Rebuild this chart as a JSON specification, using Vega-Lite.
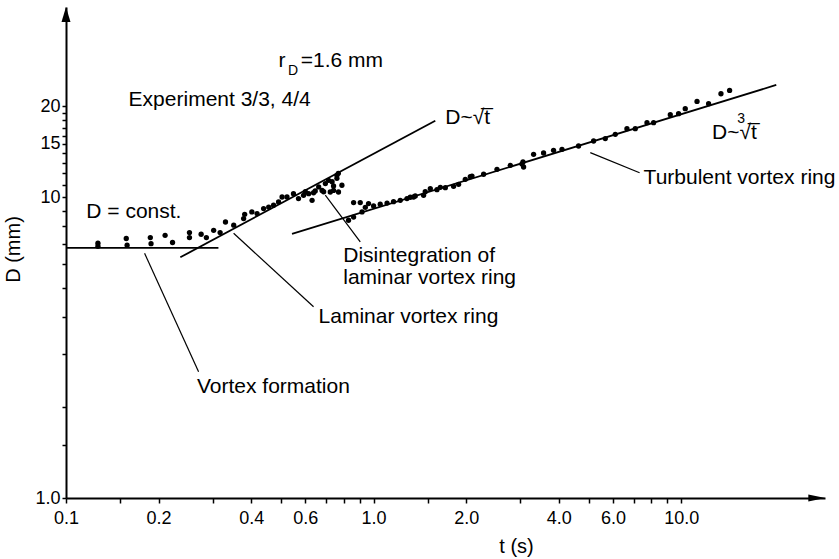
{
  "$schema": "https://vega.github.io/schema/vega-lite/v6.json",
  "width": 759,
  "height": 491,
  "autosize": {"type": "none"},
  "padding": {"left": 66, "top": 7, "right": 14, "bottom": 61},
  "background": "white",
  "config": {"view": {"stroke": null}, "font": "Liberation Sans"},
  "datasets": {
    "points": [
      {"t": 0.127, "D": 7.02}, {"t": 0.127, "D": 6.86}, {"t": 0.157, "D": 7.28}, {"t": 0.158, "D": 6.92},
      {"t": 0.188, "D": 7.33}, {"t": 0.189, "D": 7.0}, {"t": 0.21, "D": 7.46}, {"t": 0.222, "D": 7.06},
      {"t": 0.252, "D": 7.62}, {"t": 0.252, "D": 7.33}, {"t": 0.275, "D": 7.52}, {"t": 0.286, "D": 7.33},
      {"t": 0.302, "D": 7.75}, {"t": 0.317, "D": 7.62}, {"t": 0.33, "D": 8.26}, {"t": 0.351, "D": 8.06},
      {"t": 0.378, "D": 8.48}, {"t": 0.381, "D": 8.76}, {"t": 0.402, "D": 8.92}, {"t": 0.418, "D": 8.81},
      {"t": 0.439, "D": 9.15}, {"t": 0.456, "D": 9.26}, {"t": 0.473, "D": 9.39}, {"t": 0.491, "D": 9.63},
      {"t": 0.504, "D": 10.0}, {"t": 0.523, "D": 10.0}, {"t": 0.549, "D": 10.26}, {"t": 0.57, "D": 9.88},
      {"t": 0.592, "D": 10.13}, {"t": 0.6, "D": 10.41}, {"t": 0.615, "D": 10.26}, {"t": 0.631, "D": 9.75},
      {"t": 0.638, "D": 10.33}, {"t": 0.646, "D": 10.47}, {"t": 0.663, "D": 10.8}, {"t": 0.68, "D": 10.52},
      {"t": 0.688, "D": 10.41}, {"t": 0.697, "D": 11.08}, {"t": 0.714, "D": 11.36}, {"t": 0.723, "D": 10.39},
      {"t": 0.733, "D": 11.24}, {"t": 0.741, "D": 10.52}, {"t": 0.741, "D": 10.88}, {"t": 0.76, "D": 11.8},
      {"t": 0.76, "D": 11.54}, {"t": 0.769, "D": 10.39}, {"t": 0.789, "D": 10.94}, {"t": 0.768, "D": 11.99},
      {"t": 0.829, "D": 8.37}, {"t": 0.861, "D": 8.58}, {"t": 0.861, "D": 9.58}, {"t": 0.905, "D": 9.58},
      {"t": 0.917, "D": 8.92}, {"t": 0.94, "D": 9.24}, {"t": 0.963, "D": 9.51}, {"t": 1.0, "D": 9.34},
      {"t": 1.051, "D": 9.46}, {"t": 1.106, "D": 9.55}, {"t": 1.161, "D": 9.65}, {"t": 1.221, "D": 9.75},
      {"t": 1.284, "D": 9.88}, {"t": 1.316, "D": 9.98}, {"t": 1.349, "D": 10.0}, {"t": 1.366, "D": 10.08},
      {"t": 1.454, "D": 10.13}, {"t": 1.472, "D": 10.41}, {"t": 1.529, "D": 10.66}, {"t": 1.607, "D": 10.58},
      {"t": 1.648, "D": 10.77}, {"t": 1.711, "D": 10.74}, {"t": 1.82, "D": 10.85}, {"t": 1.89, "D": 11.02},
      {"t": 1.987, "D": 11.45}, {"t": 2.063, "D": 11.68}, {"t": 2.089, "D": 11.74}, {"t": 2.279, "D": 11.9},
      {"t": 2.519, "D": 12.36}, {"t": 2.783, "D": 12.74}, {"t": 3.037, "D": 12.87}, {"t": 3.06, "D": 13.07},
      {"t": 3.074, "D": 12.58}, {"t": 3.313, "D": 13.86}, {"t": 3.57, "D": 14.0}, {"t": 3.847, "D": 14.29},
      {"t": 4.098, "D": 14.4}, {"t": 4.639, "D": 14.77}, {"t": 5.191, "D": 15.35}, {"t": 5.666, "D": 15.63},
      {"t": 6.106, "D": 16.15}, {"t": 6.664, "D": 16.87}, {"t": 7.092, "D": 16.87}, {"t": 7.742, "D": 17.66},
      {"t": 8.135, "D": 17.66}, {"t": 9.218, "D": 18.77}, {"t": 9.807, "D": 18.92}, {"t": 10.31, "D": 19.65},
      {"t": 11.26, "D": 20.78}, {"t": 12.28, "D": 20.42}, {"t": 13.47, "D": 22.03}, {"t": 14.37, "D": 22.6}
    ],
    "fits": [
      {"t": 0.1, "D": 6.78, "t2": 0.313, "D2": 6.78},
      {"t": 0.2353, "D": 6.305, "t2": 1.587, "D2": 17.93},
      {"t": 0.543, "D": 7.54, "t2": 20.38, "D2": 23.56}
    ],
    "leaders": [
      {"t": 0.1801, "D": 6.5, "t2": 0.2698, "D2": 2.628},
      {"t": 0.3507, "D": 7.576, "t2": 0.638, "D2": 4.32},
      {"t": 0.6966, "D": 10.15, "t2": 0.905, "D2": 7.09},
      {"t": 5.064, "D": 14.04, "t2": 7.325, "D2": 12.04}
    ],
    "labels": [
      {"t": 0.1598, "D": 20.06, "label": "Experiment 3/3, 4/4"},
      {"t": 0.491, "D": 27.03, "label": "r"},
      {"t": 0.58, "D": 27.03, "label": "=1.6 mm"},
      {"t": 0.1164, "D": 8.5, "label": "D = const."},
      {"t": 1.711, "D": 17.48, "label": "D~√t̅"},
      {"t": 12.6, "D": 15.55, "label": "D~√t̅"},
      {"t": 7.548, "D": 11.05, "label": "Turbulent vortex ring"},
      {"t": 0.797, "D": 6.083, "label": "Disintegration of"},
      {"t": 0.797, "D": 5.14, "label": "laminar vortex ring"},
      {"t": 0.6625, "D": 3.805, "label": "Laminar vortex ring"},
      {"t": 0.2666, "D": 2.238, "label": "Vortex formation"}
    ],
    "subs": [
      {"t": 0.527, "D": 25.5, "label": "D"},
      {"t": 15.22, "D": 17.6, "label": "3"}
    ],
    "xarrow": [{"t": 27.6, "D": 1}],
    "yarrow": [{"t": 0.1, "D": 40.4}]
  },
  "layer": [
    {
      "data": {"name": "points"},
      "mark": {"type": "point", "filled": true, "shape": "circle", "size": 28, "color": "black", "opacity": 1},
      "encoding": {
        "x": {
          "field": "t", "type": "quantitative",
          "scale": {"type": "log", "domain": [0.1, 29.35], "nice": false, "zero": false},
          "axis": {
            "title": "t (s)",
            "values": [0.1, 0.15, 0.2, 0.3, 0.4, 0.5, 0.6, 0.7, 0.8, 0.9, 1, 1.5, 2, 3, 4, 5, 6, 7, 8, 9, 10],
            "labelExpr": "indexof([0.1,0.2,0.4,0.6,1,2,4,6,10], datum.value) >= 0 ? format(datum.value, '.1f') : ''",
            "labelFont": "Liberation Sans", "labelFontSize": 18, "labelColor": "black", "labelPadding": 6,
            "labelOverlap": false, "labelFlush": false,
            "tickSize": 5, "tickColor": "black", "tickWidth": 1.5,
            "domainColor": "black", "domainWidth": 2, "grid": false,
            "titleFont": "Liberation Sans", "titleFontSize": 20, "titleFontWeight": "normal", "titleColor": "black",
            "titleX": 450, "titleY": 54, "titleBaseline": "alphabetic", "titleAlign": "center"
          }
        },
        "y": {
          "field": "D", "type": "quantitative",
          "scale": {"type": "log", "domain": [1, 42.78], "nice": false, "zero": false},
          "axis": {
            "title": "D (mm)",
            "values": [1, 1.5, 2, 3, 4, 5, 6, 7, 8, 9, 10, 11, 12, 13, 14, 15, 16, 17, 18, 19, 20],
            "labelExpr": "datum.value == 1 ? '1.0' : (indexof([10,15,20], datum.value) >= 0 ? format(datum.value, 'd') : '')",
            "labelFont": "Liberation Sans", "labelFontSize": 18, "labelColor": "black", "labelPadding": 2,
            "labelOverlap": false, "labelFlush": false,
            "tickSize": 4, "tickColor": "black", "tickWidth": 1.5,
            "domainColor": "black", "domainWidth": 2, "grid": false,
            "titleFont": "Liberation Sans", "titleFontSize": 20, "titleFontWeight": "normal", "titleColor": "black",
            "titleX": -47, "titleY": 242, "titleAngle": -90, "titleBaseline": "alphabetic", "titleAlign": "center"
          }
        }
      }
    },
    {
      "data": {"name": "fits"},
      "mark": {"type": "rule", "color": "black", "strokeWidth": 1.8},
      "encoding": {
        "x": {"field": "t", "type": "quantitative"},
        "y": {"field": "D", "type": "quantitative"},
        "x2": {"field": "t2"},
        "y2": {"field": "D2"}
      }
    },
    {
      "data": {"name": "leaders"},
      "mark": {"type": "rule", "color": "black", "strokeWidth": 1.2},
      "encoding": {
        "x": {"field": "t", "type": "quantitative"},
        "y": {"field": "D", "type": "quantitative"},
        "x2": {"field": "t2"},
        "y2": {"field": "D2"}
      }
    },
    {
      "data": {"name": "labels"},
      "mark": {"type": "text", "font": "Liberation Sans", "fontSize": 21, "align": "left", "baseline": "alphabetic", "color": "black"},
      "encoding": {
        "x": {"field": "t", "type": "quantitative"},
        "y": {"field": "D", "type": "quantitative"},
        "text": {"field": "label"}
      }
    },
    {
      "data": {"name": "subs"},
      "mark": {"type": "text", "font": "Liberation Sans", "fontSize": 14, "align": "left", "baseline": "alphabetic", "color": "black"},
      "encoding": {
        "x": {"field": "t", "type": "quantitative"},
        "y": {"field": "D", "type": "quantitative"},
        "text": {"field": "label"}
      }
    },
    {
      "data": {"name": "xarrow"},
      "mark": {"type": "point", "shape": "M1,0L-1,-0.42L-1,0.42Z", "size": 289, "filled": true, "color": "black", "opacity": 1},
      "encoding": {
        "x": {"field": "t", "type": "quantitative"},
        "y": {"field": "D", "type": "quantitative"}
      }
    },
    {
      "data": {"name": "yarrow"},
      "mark": {"type": "point", "shape": "M0,-1L0.6,1L-0.6,1Z", "size": 225, "filled": true, "color": "black", "opacity": 1},
      "encoding": {
        "x": {"field": "t", "type": "quantitative"},
        "y": {"field": "D", "type": "quantitative"}
      }
    }
  ]
}
